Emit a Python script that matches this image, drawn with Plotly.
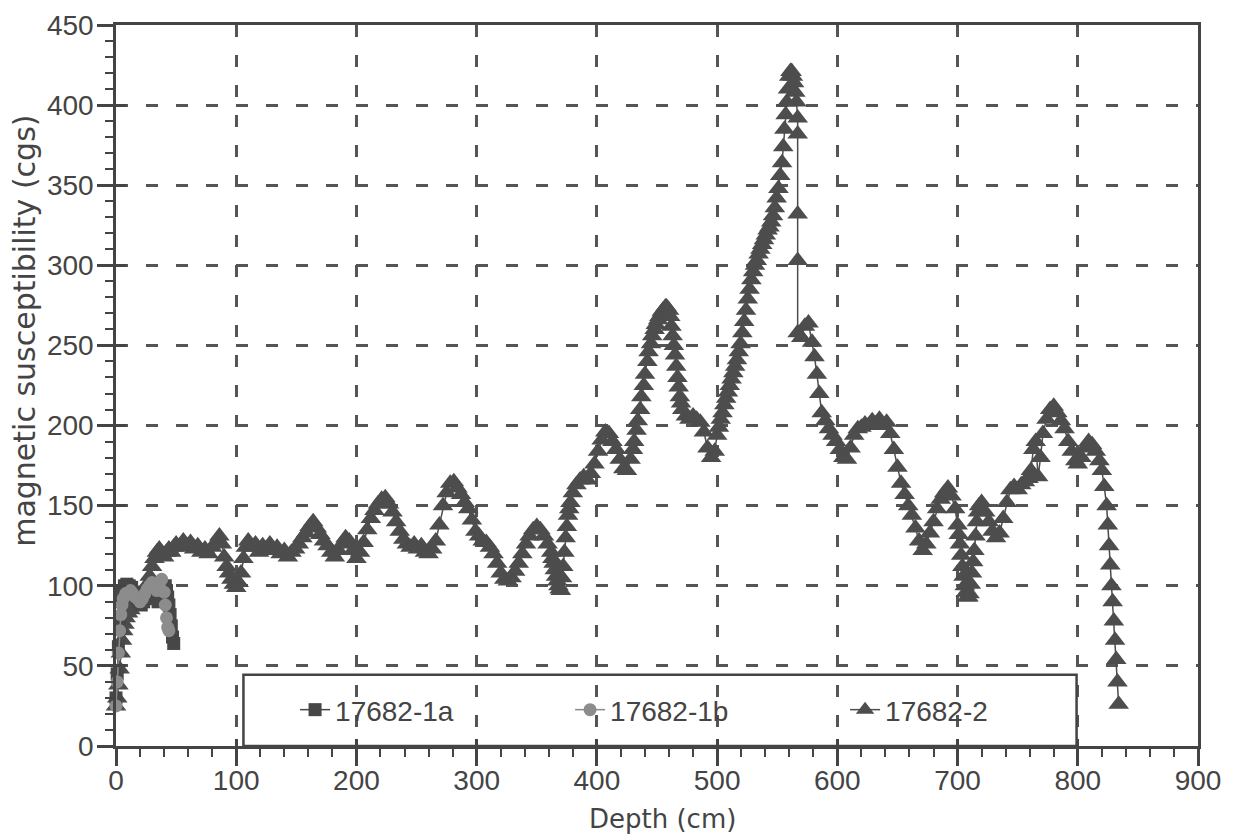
import plotly.graph_objects as go

# Core 17682-2 (triangles): depth (cm) and magnetic susceptibility (cgs)
depth_2 = [
    0, 1, 2, 3, 4, 5, 6, 7, 8, 10, 12, 14, 16, 18, 20, 22, 24, 26, 28, 30, 32, 34, 36, 38, 40, 42, 44, 46, 48, 50,
    53, 56, 59, 62, 65, 68, 71, 74, 77, 80, 83, 86, 88, 90, 92, 94, 96, 98, 100, 102, 104, 106, 108, 110,
    113, 116, 119, 122, 125, 128, 131, 134, 137, 140, 143, 146, 149, 152, 155, 158, 161, 164, 167, 170,
    173, 176, 179, 182, 185, 188, 191, 194, 197, 200,
    203, 206, 209, 212, 215, 218, 221, 224, 227, 230, 233, 236, 239, 242, 245, 248, 251, 254, 257, 260,
    263, 266, 269, 272, 275, 278, 281, 284, 287, 290, 293, 296, 299,
    302, 305, 308, 311, 314, 317, 320, 323, 326, 329, 332, 335, 338, 341, 344, 347, 350, 353, 356, 359,
    362, 363, 364, 365, 366, 367, 368, 369, 370,
    371, 372, 373, 374, 375, 376, 377, 378, 380, 383, 386, 389, 392, 395, 398, 401, 404, 407, 410, 413,
    416, 419, 422, 425,
    428, 430, 431, 433, 434, 436, 437, 439, 440, 442, 443, 445, 446, 448, 449, 451, 452, 454, 455, 457, 458,
    460, 461, 462, 463, 464, 465, 466, 467, 468, 469, 470, 471, 474, 477, 480, 483, 486, 489, 492, 495,
    498, 500, 501.5,
    503, 504.5, 506, 507.5, 509, 510.5, 512, 513.5, 515, 516.5, 518, 519.5, 521, 522.5, 524, 525.5, 527, 528.5,
    530, 531.5, 533, 534.5, 536, 537.5, 539, 540.5, 542, 543.5, 545, 546.5, 548, 549.5, 551, 552.5, 554, 555,
    556, 557, 558, 559, 560, 561, 562, 563, 564, 565, 566,
    567, 567, 567, 567, 567,
    570, 573, 576, 579, 581, 583, 585, 587, 590, 593, 596, 599, 602, 605, 608,
    611, 614, 617, 620, 623, 626, 629, 632, 635, 638, 641, 644, 647, 650, 653, 656, 659, 662, 665, 668, 671,
    674, 677, 680, 683, 686, 689, 692, 695, 698, 700, 701, 702, 703, 704, 705, 706, 707, 708, 709,
    710, 711, 712, 713, 714, 715, 716, 717, 718, 720, 723, 726, 729, 732, 735,
    738, 741, 744, 747, 750, 753, 756, 759, 761, 763, 765, 767, 769, 771, 774, 777, 780, 783, 786, 789,
    792, 795, 798, 800,
    803, 806, 809, 812, 815, 818, 820, 822, 824, 825, 826, 827, 828, 829, 830, 831, 832, 833, 834,
]
chi_2 = [
    25, 30, 38, 48, 58, 66, 72, 76, 80, 83, 85, 88, 90, 89, 92, 94, 97, 101, 106, 112, 117, 121, 123, 120, 118, 121, 123, 121, 124, 126,
    124, 128, 125, 127, 123, 125, 121, 123, 120, 124, 127, 131, 126, 118, 112, 108, 104, 101, 99, 102, 108, 117, 124, 128,
    124, 126, 121, 125, 123, 126, 122, 124, 120, 122, 118, 121, 123, 126, 130, 133, 137, 140, 136, 132,
    128, 125, 121, 118, 122, 126, 130, 128, 122, 117,
    121, 127, 135, 142, 147, 151, 154, 155, 151, 146, 140, 134, 129, 126, 124, 126, 123, 125, 121, 120,
    123, 128, 138, 150, 158, 164, 165, 161, 157, 152, 148, 141, 134,
    131, 128, 127, 124, 120, 114, 108, 104, 103, 105, 109, 114, 120, 126, 131, 135, 137, 135, 131, 126,
    121, 117, 114, 110, 106, 103, 100, 98, 97,
    105, 112, 121, 130, 137, 144, 148, 152, 158, 163, 166, 168, 166, 170, 176, 184, 191, 196, 195, 190,
    185, 179, 173, 172,
    179, 185, 190, 197, 203, 210, 218, 225, 232, 240, 246, 251, 256, 260, 263, 266, 268, 271, 272, 274, 274,
    272, 268, 262, 256, 250, 244, 237, 230, 224, 218, 214, 210, 206, 204, 206, 204, 202, 196, 186, 180,
    184, 194, 199,
    204, 208, 213, 217, 221, 225, 229, 233, 237, 241, 246, 251, 258, 265, 272, 279, 285, 291,
    296, 300, 303, 307, 310, 313, 316, 319, 322, 324, 327, 331, 336, 342, 348, 356, 364, 374,
    385, 394, 402, 410, 418, 421, 421, 418, 414, 408, 402,
    392, 382, 332, 303, 258,
    255, 262, 264, 252, 243, 232, 220, 208, 203, 198, 194, 190, 185, 180, 179,
    186, 194, 198, 199, 201, 200, 203, 201, 204, 200, 202, 195, 185, 174, 164, 157, 150, 144, 136, 128, 122,
    126, 133, 140, 148, 154, 158, 161, 156, 148, 138, 132, 126, 119, 112, 106, 100, 96, 93, 93,
    95, 101, 108, 115, 122, 131, 140, 146, 150, 152, 146, 140, 134, 130, 133,
    142, 152, 160, 162, 160, 163, 165, 167, 172, 185, 190, 168, 180, 195, 204, 210, 212, 208, 203, 198,
    190, 184, 178, 176,
    180, 186, 190, 188, 184, 178, 172, 162, 150, 138, 125, 113, 100, 90, 78, 66, 54, 40, 26,
]
assert len(depth_2) == len(chi_2)

# Core 17682-1a (squares)
depth_1a = [0, 1, 2, 3, 4, 5, 7, 9, 11, 13, 15, 17, 19, 21, 23, 25, 27, 29, 31, 33, 35, 37, 39, 41, 42, 43, 44, 45, 46, 47, 48]
chi_1a = [30, 45, 62, 78, 90, 97, 100, 101, 100, 99, 96, 92, 90, 88, 90, 92, 95, 97, 95, 92, 90, 92, 96, 100, 97, 93, 88, 82, 75, 68, 64]

# Core 17682-1b (circles)
depth_1b = [0, 1, 2, 3, 4, 5, 6, 8, 10, 12, 14, 16, 18, 20, 22, 24, 26, 28, 30, 32, 34, 36, 38, 40, 41, 42, 43, 44]
chi_1b = [25, 40, 58, 72, 82, 88, 92, 95, 96, 97, 95, 93, 92, 90, 92, 95, 98, 100, 102, 100, 97, 100, 104, 96, 88, 80, 74, 72]

INK = "#444444"
GRID = "#555555"
FONT = "Liberation Sans"

fig = go.Figure()

fig.add_trace(go.Scatter(
    x=depth_2, y=chi_2, name="17682-2", mode="lines+markers",
    line=dict(color="#4d4d4d", width=1.5),
    marker=dict(symbol="triangle-up", size=18, color="#4d4d4d"),
    cliponaxis=False, legendrank=3,
))
fig.add_trace(go.Scatter(
    x=depth_1a, y=chi_1a, name="17682-1a", mode="lines+markers",
    line=dict(color="#474747", width=1.5),
    marker=dict(symbol="square", size=13, color="#474747"),
    cliponaxis=False, legendrank=1,
))
fig.add_trace(go.Scatter(
    x=depth_1b, y=chi_1b, name="17682-1b", mode="lines+markers",
    line=dict(color="#8a8a8a", width=1.5),
    marker=dict(symbol="circle", size=13, color="#8c8c8c"),
    cliponaxis=False, legendrank=2, xaxis="x2", yaxis="y2",
))

tickfont = dict(family=FONT, size=28, color=INK)

fig.update_layout(
    width=1243, height=840,
    margin=dict(l=116, r=45, t=25, b=94, autoexpand=False),
    paper_bgcolor="white", plot_bgcolor="white",
    showlegend=True,
    xaxis=dict(
        range=[0, 900], dtick=100, tick0=0,
        showline=True, linecolor=INK, linewidth=2.5, mirror=True,
        ticks="outside", ticklen=17, tickwidth=2.5, tickcolor=INK,
        ticklabelstandoff=-9,
        minor=dict(dtick=20, ticks="outside", ticklen=8, tickwidth=2, tickcolor=INK, showgrid=False),
        showgrid=True, gridcolor=GRID, gridwidth=2.5, griddash="12px,18px",
        zeroline=False, tickfont=tickfont,
    ),
    yaxis=dict(
        range=[0, 450], dtick=50, tick0=0,
        showline=True, linecolor=INK, linewidth=2.5, mirror=True,
        ticks="outside", ticklen=16, tickwidth=2.5, tickcolor=INK,
        ticklabelstandoff=-2,
        minor=dict(dtick=10, ticks="outside", ticklen=8, tickwidth=2, tickcolor=INK, showgrid=False),
        showgrid=True, gridcolor=GRID, gridwidth=2.5, griddash="12px,18px",
        zeroline=False, tickfont=tickfont,
    ),
    # second pair of axes carries the inner half of the crossing major ticks
    xaxis2=dict(
        overlaying="x", anchor="y", side="bottom", range=[0, 900], dtick=100, tick0=0,
        ticks="inside", ticklen=7, tickwidth=2.5, tickcolor=INK,
        showticklabels=False, showgrid=False, showline=False, zeroline=False,
    ),
    yaxis2=dict(
        overlaying="y", anchor="x", side="left", range=[0, 450], dtick=50, tick0=0,
        ticks="inside", ticklen=10, tickwidth=2.5, tickcolor=INK,
        showticklabels=False, showgrid=False, showline=False, zeroline=False,
    ),
    legend=dict(
        orientation="h", x=0.1655, xanchor="left", y=0.05, yanchor="middle",
        bgcolor="rgba(0,0,0,0)", borderwidth=0,
        font=dict(family=FONT, size=28, color=INK),
        entrywidth=230, entrywidthmode="pixels",
    ),
    shapes=[dict(
        type="rect", xref="x", yref="y", x0=106, x1=799, y0=0, y1=44.4,
        line=dict(color=INK, width=2.5), fillcolor="rgba(0,0,0,0)", layer="above",
    )],
    annotations=[
        dict(text="Depth (cm)", xref="paper", yref="paper", x=0.5055, y=-0.101,
             xanchor="center", yanchor="middle", showarrow=False,
             font=dict(family="DejaVu Sans", size=26, color=INK)),
        dict(text="magnetic susceptibility (cgs)", xref="paper", yref="paper", x=-0.084, y=0.576,
             xanchor="center", yanchor="middle", showarrow=False, textangle=-90,
             font=dict(family="DejaVu Sans", size=30, color=INK)),
    ],
)

fig.write_html("out.html")
